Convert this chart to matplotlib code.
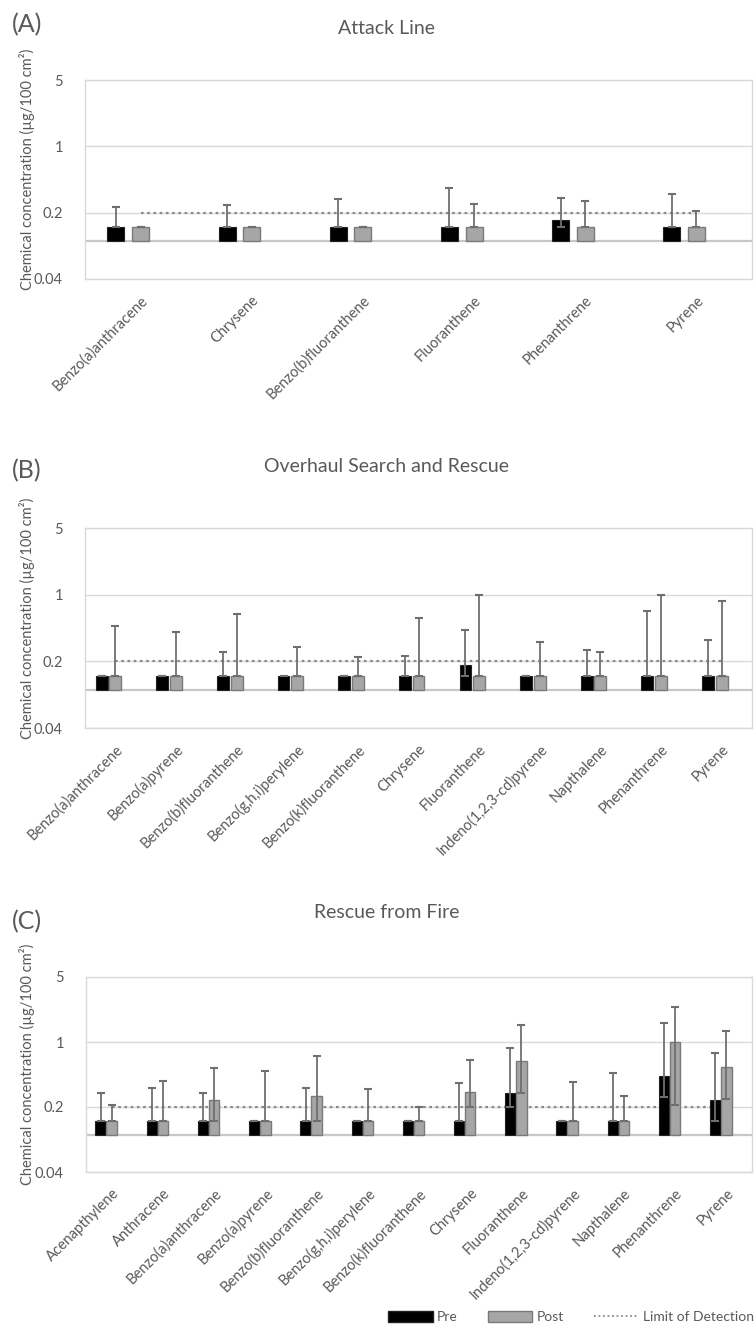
import matplotlib
matplotlib.use("Agg")
import matplotlib.pyplot as plt
import numpy as np
from matplotlib.lines import Line2D
from matplotlib.patches import Patch

plt.rcParams['font.family'] = ['Lato', 'DejaVu Sans']

# ---------------- DATA ----------------
LOD = 0.2
BASE = 0.1

cats_A = ['Benzo(a)anthracene', 'Chrysene', 'Benzo(b)fluoranthene',
          'Fluoranthene', 'Phenanthrene', 'Pyrene']
pre_A = [0.141, 0.141, 0.141, 0.141, 0.169, 0.141]
pre_A_min = [0.141, 0.141, 0.141, 0.141, 0.141, 0.141]
pre_A_max = [0.227, 0.239, 0.279, 0.364, 0.286, 0.317]
post_A = [0.141, 0.141, 0.141, 0.141, 0.141, 0.141]
post_A_min = [0.141, 0.141, 0.141, 0.141, 0.141, 0.141]
post_A_max = [0.141, 0.141, 0.141, 0.249, 0.268, 0.210]

cats_B = ['Benzo(a)anthracene', 'Benzo(a)pyrene', 'Benzo(b)fluoranthene',
          'Benzo(g,h,i)perylene', 'Benzo(k)fluoranthene', 'Chrysene',
          'Fluoranthene', 'Indeno(1,2,3-cd)pyrene', 'Napthalene',
          'Phenanthrene', 'Pyrene']
pre_B = [0.141, 0.141, 0.141, 0.141, 0.141, 0.141, 0.183, 0.141, 0.141, 0.141, 0.141]
pre_B_min = [0.141] * 11
pre_B_max = [0.141, 0.141, 0.252, 0.141, 0.141, 0.229, 0.422, 0.141, 0.262, 0.668, 0.332]
post_B = [0.141] * 11
post_B_min = [0.141] * 11
post_B_max = [0.466, 0.403, 0.622, 0.280, 0.220, 0.568, 1.0, 0.318, 0.250, 1.0, 0.85]

cats_C = ['Acenapthylene', 'Anthracene', 'Benzo(a)anthracene', 'Benzo(a)pyrene',
          'Benzo(b)fluoranthene', 'Benzo(g,h,i)perylene', 'Benzo(k)fluoranthene',
          'Chrysene', 'Fluoranthene', 'Indeno(1,2,3-cd)pyrene', 'Napthalene',
          'Phenanthrene', 'Pyrene']
pre_C = [0.141, 0.141, 0.141, 0.141, 0.141, 0.141, 0.141, 0.141, 0.285, 0.141, 0.141, 0.43, 0.24]
pre_C_min = [0.141, 0.141, 0.141, 0.141, 0.141, 0.141, 0.141, 0.141, 0.20, 0.141, 0.141, 0.256, 0.141]
pre_C_max = [0.283, 0.32, 0.283, 0.141, 0.32, 0.141, 0.141, 0.362, 0.856, 0.141, 0.467, 1.62, 0.76]
post_C = [0.141, 0.141, 0.236, 0.141, 0.262, 0.141, 0.141, 0.29, 0.625, 0.141, 0.141, 1.0, 0.54]
post_C_min = [0.141, 0.141, 0.141, 0.141, 0.141, 0.141, 0.141, 0.20, 0.28, 0.141, 0.141, 0.208, 0.245]
post_C_max = [0.21, 0.384, 0.52, 0.484, 0.707, 0.31, 0.20, 0.636, 1.51, 0.375, 0.262, 2.36, 1.31]

yticks = [0.04, 0.2, 1, 5]
ytick_labels = ['0.04', '0.2', '1', '5']

panels = [
    dict(tag='(A)', title='Attack Line', cats=cats_A, pre=pre_A, pre_min=pre_A_min, pre_max=pre_A_max,
         post=post_A, post_min=post_A_min, post_max=post_A_max,
         box=(85, 80, 752, 279), width=0.153, pre_off=-0.222, title_y=28, tag_y=25),
    dict(tag='(B)', title='Overhaul Search and Rescue', cats=cats_B, pre=pre_B, pre_min=pre_B_min, pre_max=pre_B_max,
         post=post_B, post_min=post_B_min, post_max=post_B_max,
         box=(85, 528, 752, 728), width=0.195, pre_off=-0.225, title_y=467, tag_y=471),
    dict(tag='(C)', title='Rescue from Fire', cats=cats_C, pre=pre_C, pre_min=pre_C_min, pre_max=pre_C_max,
         post=post_C, post_min=post_C_min, post_max=post_C_max,
         box=(86, 977, 752, 1172), width=0.205, pre_off=-0.215, title_y=913, tag_y=922),
]

W, H = 754, 1328
fig = plt.figure(figsize=(W / 100, H / 100), dpi=100)

TXT = '#595959'
GRID = '#d9d9d9'
ERR = '#6f6f6f'

for p in panels:
    x0, y0, x1, y1 = p['box']
    ax = fig.add_axes([x0 / W, 1 - y1 / H, (x1 - x0) / W, (y1 - y0) / H])
    n = len(p['cats'])
    x = np.arange(n)
    ax.set_yscale('log', base=5)
    ax.set_ylim(0.04, 5)
    ax.set_xlim(-0.5, n - 0.5)
    for t in yticks:
        ax.axhline(t, color=GRID, lw=1.0, zorder=0)
    ax.axhline(BASE, color='#c8c8c8', lw=1.6, zorder=1)

    pre = np.array(p['pre']); post = np.array(p['post'])
    pre_err = [pre - np.array(p['pre_min']), np.array(p['pre_max']) - pre]
    post_err = [post - np.array(p['post_min']), np.array(p['post_max']) - post]
    w = p['width']
    ax.bar(x + p['pre_off'], pre - BASE, bottom=BASE, width=w, color='black',
           edgecolor='#222222', lw=0.8, zorder=3)
    ax.bar(x, post - BASE, bottom=BASE, width=w, color='#a6a6a6',
           edgecolor='#7a7a7a', lw=1.0, zorder=3)
    ax.errorbar(x + p['pre_off'], pre, yerr=pre_err, fmt='none', ecolor=ERR,
                elinewidth=1.3, capsize=3, capthick=1.5, zorder=4)
    ax.errorbar(x, post, yerr=post_err, fmt='none', ecolor=ERR,
                elinewidth=1.3, capsize=3, capthick=1.5, zorder=4)
    ax.plot(x, [LOD] * n, linestyle=(0, (1.2, 1.6)), color='#8c8c8c', lw=1.6, zorder=2)

    ax.set_yticks(yticks)
    ax.set_yticklabels(ytick_labels)
    ax.yaxis.set_minor_locator(matplotlib.ticker.NullLocator())
    ax.set_xticks(x)
    ax.set_xticklabels(p['cats'], rotation=45, ha='right', va='top',
                       rotation_mode='anchor')
    ax.tick_params(axis='both', length=0, colors=TXT, labelsize=10.5)
    ax.tick_params(axis='y', pad=16)
    ax.tick_params(axis='x', pad=10)
    for s in ax.spines.values():
        s.set_color(GRID)
        s.set_linewidth(1.0)

    fig.text(387 / W, 1 - p['title_y'] / H, p['title'], ha='center', va='center',
             fontsize=14, color=TXT)
    fig.text(12 / W, 1 - p['tag_y'] / H, p['tag'], ha='left', va='center',
             fontsize=18, color=TXT)
    fig.text(27 / W, 1 - ((y0 + y1) / 2 - 10) / H, 'Chemical concentration (µg/100 cm²)',
             rotation=90, ha='center', va='center', fontsize=10.5, color=TXT)

handles = [Patch(facecolor='black', edgecolor='#222222'),
           Patch(facecolor='#a6a6a6', edgecolor='#7a7a7a'),
           Line2D([0], [0], linestyle=(0, (1.0, 1.5)), color='#8c8c8c', lw=1.3)]
fig.legend(handles, ['Pre', 'Post', 'Limit of Detection'], loc='center right',
           bbox_to_anchor=(754 / W, 1 - 1317 / H), ncol=3, frameon=False,
           fontsize=10, handlelength=3.2, handleheight=0.8, columnspacing=2.2,
           handletextpad=0.3, labelcolor=TXT, borderaxespad=0, borderpad=0)

fig.savefig('out.png', dpi=100, facecolor='white')
